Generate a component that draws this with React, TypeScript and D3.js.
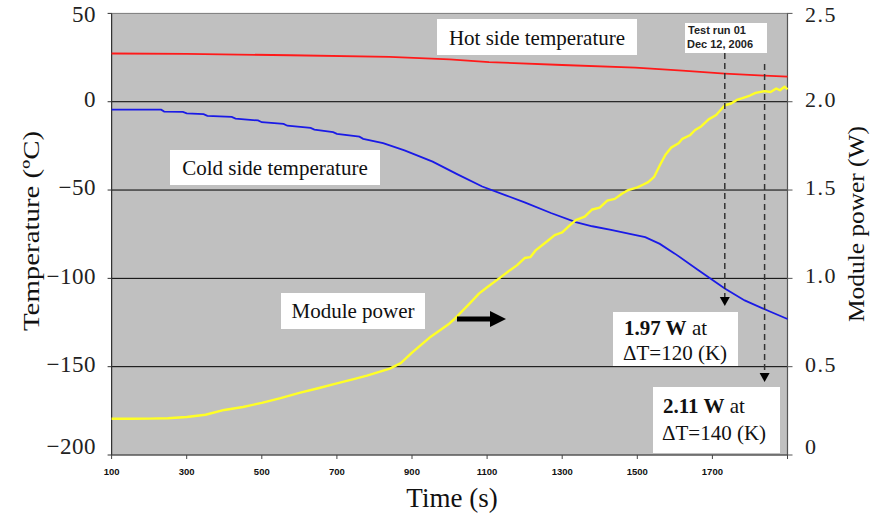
import React from "react";
import * as d3 from "d3";

// ---- Data ----
const hotTime = [100, 300, 576, 840, 1000, 1105, 1300, 1495, 1620, 1733, 1839, 1900];
const hotTemp = [27.3, 27.1, 26.3, 25.4, 24.0, 22.4, 20.8, 19.3, 17.6, 15.9, 14.8, 14.2];

const coldTime = [100, 232, 240, 290, 300, 345, 355, 420, 430, 490, 500, 558, 568, 630, 640, 690, 700, 760, 770, 823, 880, 955, 1020, 1087, 1150, 1200, 1270, 1336, 1380, 1430, 1480, 1521, 1560, 1600, 1660, 1733, 1786, 1850, 1900];
const coldTemp = [-4.5, -4.5, -5.6, -5.8, -6.6, -7.0, -8.0, -8.6, -9.6, -10.6, -11.6, -12.6, -13.6, -14.8, -15.8, -17.2, -18.2, -19.8, -21.0, -23.5, -27.5, -33.9, -41.0, -48.0, -53.0, -57.0, -63.0, -68.2, -70.5, -72.5, -74.8, -76.7, -80.5, -86.0, -95.0, -105.7, -112.5, -118.5, -123.0];

const powerTime = [100, 150, 200, 250, 300, 350, 400, 450, 500, 550, 600, 650, 700, 750, 780, 841, 870, 900, 950, 1000, 1013, 1050, 1079, 1100, 1132, 1160, 1180, 1200, 1215, 1230, 1260, 1280, 1300, 1320, 1336, 1360, 1380, 1400, 1420, 1440, 1460, 1476, 1500, 1515, 1529, 1545, 1560, 1575, 1590, 1610, 1620, 1640, 1654, 1670, 1690, 1710, 1733, 1750, 1765, 1780, 1800, 1815, 1839, 1855, 1870, 1880, 1892, 1900];
const powerW = [0.205, 0.205, 0.206, 0.208, 0.215, 0.228, 0.255, 0.272, 0.295, 0.322, 0.352, 0.378, 0.405, 0.432, 0.449, 0.489, 0.52, 0.58, 0.67, 0.745, 0.77, 0.85, 0.915, 0.95, 1.0, 1.045, 1.075, 1.115, 1.12, 1.16, 1.21, 1.245, 1.26, 1.3, 1.33, 1.35, 1.39, 1.4, 1.44, 1.45, 1.48, 1.5, 1.515, 1.53, 1.545, 1.575, 1.64, 1.7, 1.74, 1.765, 1.79, 1.81, 1.84, 1.86, 1.9, 1.925, 1.98, 1.99, 2.01, 2.02, 2.035, 2.05, 2.06, 2.055, 2.075, 2.065, 2.085, 2.07];

const xTicks = [100, 300, 500, 700, 900, 1100, 1300, 1500, 1700];
const leftTicks = [50, 0, -50, -100, -150, -200];
const rightTicks = [2.5, 2.0, 1.5, 1.0, 0.5, 0];
const gridTemps = [0, -50, -100, -150];
const markTimes = [1733, 1839];

const W = 888;
const H = 517;
const L = 111.6, R = 787.5, T = 13.4, B = 455;

export default function App() {
  const x = d3.scaleLinear().domain([100, 1900]).range([L, R]);
  const yL = d3.scaleLinear().domain([-200, 50]).range([B, T]);
  const yR = d3.scaleLinear().domain([0, 2.5]).range([B, T]);

  const line = d3.line<[number, number]>().x((d) => d[0]).y((d) => d[1]);
  const hotPath = line(hotTime.map((t, i) => [x(t), yL(hotTemp[i])]))!;
  const coldPath = line(coldTime.map((t, i) => [x(t), yL(coldTemp[i])]))!;
  const powerPath = line(powerTime.map((t, i) => [x(t), yR(powerW[i])]))!;

  const serif = "'Liberation Serif', 'Times New Roman', serif";
  const sans = "'Liberation Sans', Arial, sans-serif";
  const fmtL = (v: number) => (v < 0 ? "\u2212" + Math.abs(v) : String(v));
  const fmtR = (v: number) => (v === 0 ? "0" : v.toFixed(1));
  const clampY = (y: number) => Math.max(17, Math.min(449, y));

  const m1 = x(markTimes[0]);
  const m2 = x(markTimes[1]);

  return (
    <svg width={W} height={H} style={{ position: "absolute", left: 0, top: 0, background: "#fff" }}>
      {/* plot background */}
      <rect x={L} y={T} width={R - L} height={B - T} fill="#c0c0c0" stroke="#7a7a7a" strokeWidth={1} />
      {/* grid */}
      {gridTemps.map((g) => (
        <line key={g} x1={L} x2={R} y1={yL(g)} y2={yL(g)} stroke="#000" strokeWidth={1} />
      ))}
      {/* left axis */}
      <line x1={L} x2={L} y1={T} y2={B} stroke="#333" strokeWidth={1.2} />
      {leftTicks.map((v) => (
        <g key={v}>
          <line x1={L - 4} x2={L} y1={yL(v)} y2={yL(v)} stroke="#333" />
          <text x={96} y={clampY(yL(v))} textAnchor="end" dominantBaseline="middle" fontFamily={serif} fontSize={23} letterSpacing={0.5} fill="#222">
            {fmtL(v)}
          </text>
        </g>
      ))}
      {/* right axis */}
      <line x1={R} x2={R} y1={T} y2={B} stroke="#555" strokeWidth={1.2} />
      {rightTicks.map((v) => (
        <g key={v}>
          <line x1={R} x2={R + 5} y1={yR(v)} y2={yR(v)} stroke="#555" />
          <text x={805} y={clampY(yR(v))} textAnchor="start" dominantBaseline="middle" fontFamily={serif} fontSize={22} letterSpacing={1.5} fill="#222">
            {fmtR(v)}
          </text>
        </g>
      ))}
      {/* bottom axis */}
      <line x1={L} x2={R} y1={B} y2={B} stroke="#444" strokeWidth={1.2} />
      {xTicks.map((t) => (
        <g key={t}>
          <line x1={x(t)} x2={x(t)} y1={B} y2={B + 4} stroke="#444" />
          <text x={x(t)} y={475} textAnchor="middle" fontFamily={sans} fontWeight="bold" fontSize={9.5} fill="#111">
            {t}
          </text>
        </g>
      ))}
      <line x1={R} x2={R} y1={B} y2={B + 4} stroke="#444" />

      {/* series */}
      <path d={hotPath} fill="none" stroke="#ff1a1a" strokeWidth={1.8} />
      <path d={coldPath} fill="none" stroke="#1a1ae6" strokeWidth={1.8} />
      <path d={powerPath} fill="none" stroke="#ffff26" strokeWidth={2.4} strokeLinejoin="round" />

      {/* dashed markers */}
      <line x1={m1} x2={m1} y1={53} y2={298} stroke="#333" strokeWidth={1.5} strokeDasharray="6,4" />
      <path d={`M${m1 - 5},${297} L${m1 + 5},${297} L${m1},${306} z`} fill="#000" />
      <line x1={m2} x2={m2} y1={64} y2={374} stroke="#333" strokeWidth={1.5} strokeDasharray="6,4" />
      <path d={`M${m2 - 5},${373} L${m2 + 5},${373} L${m2},${382} z`} fill="#000" />

      {/* annotations */}
      <rect x={437} y={19} width={200} height={36} fill="#fff" />
      <text x={537} y={45} textAnchor="middle" fontFamily={serif} fontSize={21} fill="#111">Hot side temperature</text>

      <rect x={685} y={23} width={82} height={30} fill="#fff" />
      <text x={688} y={34} textAnchor="start" fontFamily={sans} fontWeight="bold" fontSize={11} fill="#222">Test run 01</text>
      <text x={687} y={48} textAnchor="start" fontFamily={sans} fontWeight="bold" fontSize={11} fill="#222">Dec 12, 2006</text>

      <rect x={170} y={150} width={210} height={35} fill="#fff" />
      <text x={275} y={175} textAnchor="middle" fontFamily={serif} fontSize={21} fill="#111">Cold side temperature</text>

      <rect x={281} y={293} width={144} height={36} fill="#fff" />
      <text x={353} y={318} textAnchor="middle" fontFamily={serif} fontSize={21} fill="#111">Module power</text>

      {/* black arrow */}
      <rect x={457} y={316.5} width={34} height={5} fill="#000" />
      <path d="M490,311 L506,319 L490,327 z" fill="#000" />

      <rect x={613} y={312} width={125} height={54} fill="#fff" />
      <text x={624} y={335} fontFamily={serif} fontSize={21} fill="#111">
        <tspan fontWeight="bold">1.97 W</tspan> at
      </text>
      <text x={623} y={360} fontFamily={serif} fontSize={21} fill="#111">ΔT=120 (K)</text>

      <rect x={653} y={387} width={127} height={66} fill="#fff" />
      <text x={663} y={413} fontFamily={serif} fontSize={21} fill="#111">
        <tspan fontWeight="bold">2.11 W</tspan> at
      </text>
      <text x={662} y={440} fontFamily={serif} fontSize={21} fill="#111">ΔT=140 (K)</text>

      {/* axis titles */}
      <text transform="translate(39,231) rotate(-90)" textAnchor="middle" fontFamily={serif} fontSize={23} textLength={200} lengthAdjust="spacingAndGlyphs" fill="#111">
        Temperature (ºC)
      </text>
      <text transform="translate(864,224) rotate(-90)" textAnchor="middle" fontFamily={serif} fontSize={23} textLength={196} lengthAdjust="spacingAndGlyphs" fill="#111">
        Module power (W)
      </text>
      <text x={452} y={507} textAnchor="middle" fontFamily={serif} fontSize={27} fill="#111">Time (s)</text>
    </svg>
  );
}
